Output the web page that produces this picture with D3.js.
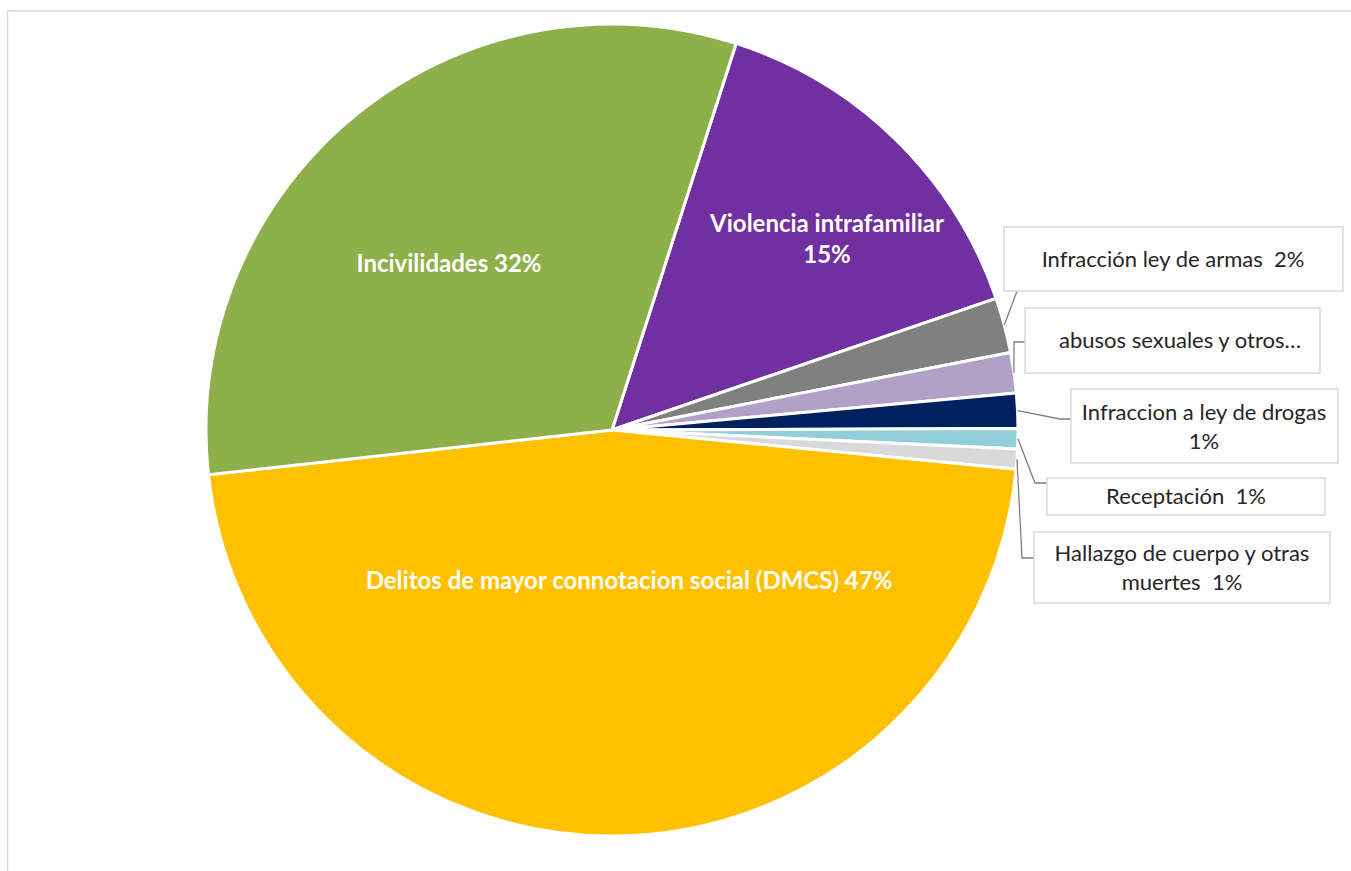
<!DOCTYPE html>
<html>
<head>
<meta charset="utf-8">
<script src="https://cdn.jsdelivr.net/npm/d3@7"></script>
<style>
  html, body { margin: 0; padding: 0; background: #ffffff; overflow: hidden; }
  svg { display: block; }
  text { white-space: pre; }
</style>
</head>
<body>
<svg id="chart" width="1351" height="871"></svg>
<script>
// ---- data ----
const categories = [
  "Violencia intrafamiliar",
  "Infracción ley de armas",
  "abusos sexuales y otros…",
  "Infraccion a ley de drogas",
  "Receptación",
  "Hallazgo de cuerpo y otras muertes",
  "Delitos de mayor connotacion social (DMCS)",
  "Incivilidades"
];
const shares = [14.8, 2.2, 1.6, 1.4, 0.8, 0.8, 46.7, 31.7];
const colors = ["#7030A0", "#808080", "#B1A0C7", "#002060", "#92CDDC", "#D9D9D9", "#FFC000", "#8DB04B"];

// ---- layout ----
const W = 1351, H = 871;
const cx = 612, cy = 430, R = 406;
const startDeg = 17.8;
const fontFam = "Lato, 'Open Sans', sans-serif";
const innerSize = 24;
const calloutSize = 22;

// label placement per category (layout only); split = words on first line
const labelLayout = [
  { kind: "inside", x: 827, y: 232, lh: 31, split: 2, sep: " " },
  { kind: "box", box: [1004, 227, 339, 64], tx: 1173, ty: 267, lh: 29, split: 99, sep: "  ",
    path: [[1017, 291]] },
  { kind: "box", box: [1025, 308, 295, 65], tx: 1180, ty: 348, lh: 29, split: 99, nopct: true,
    path: [[1014, 342], [1025, 342]] },
  { kind: "box", box: [1071, 389, 267, 74], tx: 1204, ty: 420, lh: 29, split: 5, sep: " ",
    path: [[1060, 419], [1071, 419]] },
  { kind: "box", box: [1047, 478, 278, 37], tx: 1186, ty: 504, lh: 29, split: 99, sep: "  ",
    path: [[1035, 483], [1047, 483]] },
  { kind: "box", box: [1034, 532, 296, 71], tx: 1182, ty: 561, lh: 29, split: 5, sep: "  ",
    path: [[1022, 558], [1034, 558]] },
  { kind: "inside", x: 629, y: 589, lh: 31, split: 99, sep: " " },
  { kind: "inside", x: 449, y: 272, lh: 31, split: 99, sep: " " }
];

const svg = d3.select("#chart");

// chart area frame
svg.append("rect")
  .attr("x", 7.5).attr("y", 11)
  .attr("width", W + 20).attr("height", H + 20)
  .attr("fill", "#ffffff")
  .attr("stroke", "#D9D9D9").attr("stroke-width", 1.5);

const data = categories.map((c, i) => ({ name: c, value: shares[i], color: colors[i], i }));
const total = d3.sum(shares);

const pie = d3.pie()
  .sort(null)
  .value(d => d.value)
  .startAngle(startDeg * Math.PI / 180)
  .endAngle(startDeg * Math.PI / 180 + 2 * Math.PI);

const arcs = pie(data);
const arc = d3.arc().innerRadius(0).outerRadius(R);

const g = svg.append("g").attr("transform", `translate(${cx},${cy})`);

g.selectAll("path.slice")
  .data(arcs)
  .join("path")
  .attr("class", "slice")
  .attr("d", arc)
  .attr("fill", d => d.data.color)
  .attr("stroke", "#ffffff")
  .attr("stroke-width", 3)
  .attr("stroke-linejoin", "round");

function pctText(v) { return Math.round(v / total * 100) + "%"; }

function lines(d, lay) {
  const words = d.data.name.split(" ");
  const pct = lay.nopct ? "" : pctText(d.data.value);
  if (lay.split > words.length) {
    const l = words.join(" ");
    return [pct ? l + lay.sep + pct : l];
  }
  const l1 = words.slice(0, lay.split).join(" ");
  const rest = words.slice(lay.split).join(" ");
  return [l1, rest ? rest + lay.sep + pct : pct];
}

// callout leader lines and boxes
arcs.forEach((d, k) => {
  const lay = labelLayout[k];
  if (lay.kind !== "box") return;
  const mid = (d.startAngle + d.endAngle) / 2;
  const sx = cx + R * Math.sin(mid), sy = cy - R * Math.cos(mid);
  const pts = [[sx, sy]].concat(lay.path);
  svg.append("path")
    .attr("d", d3.line()(pts))
    .attr("fill", "none")
    .attr("stroke", "#7F7F7F")
    .attr("stroke-width", 1.3);
  svg.append("rect")
    .attr("x", lay.box[0]).attr("y", lay.box[1])
    .attr("width", lay.box[2]).attr("height", lay.box[3])
    .attr("fill", "#ffffff")
    .attr("stroke", "#D9D9D9").attr("stroke-width", 1.5);
  const t = svg.append("text")
    .attr("text-anchor", "middle")
    .attr("font-family", fontFam)
    .attr("font-size", calloutSize)
    .attr("fill", "#262626");
  lines(d, lay).forEach((s, j) => {
    t.append("tspan").attr("x", lay.tx).attr("y", lay.ty + j * lay.lh).text(s);
  });
});

// inside labels
arcs.forEach((d, k) => {
  const lay = labelLayout[k];
  if (lay.kind !== "inside") return;
  const t = svg.append("text")
    .attr("text-anchor", "middle")
    .attr("font-family", fontFam)
    .attr("font-size", innerSize)
    .attr("font-weight", "bold")
    .attr("fill", "#ffffff");
  lines(d, lay).forEach((s, j) => {
    t.append("tspan").attr("x", lay.x).attr("y", lay.y + j * lay.lh).text(s);
  });
});
</script>
</body>
</html>
